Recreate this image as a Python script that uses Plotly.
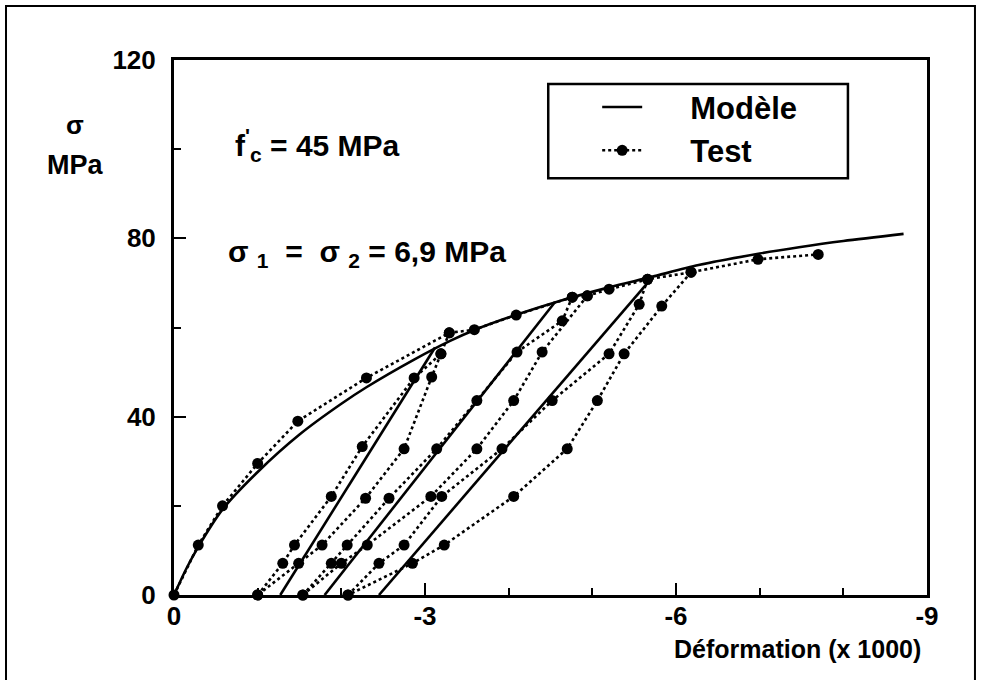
import plotly.graph_objects as go

# ---------------- data (strain x1000, stress MPa) ----------------
# Model: envelope curve
model_env_x = [0, -0.15, -0.29, -0.58, -1.0, -1.5, -2.0, -2.3, -2.87, -3.3, -3.6, -4.1, -4.6, -5.2, -5.7, -6.27, -7.0, -7.47, -8.0, -8.72]
model_env_y = [0, 6.0, 10.8, 19.2, 27.6, 36.0, 42.9, 46.6, 52.8, 57.0, 59.5, 62.9, 65.9, 69.0, 71.3, 74.0, 76.6, 78.0, 79.4, 81.0]
# Model: unloading / reloading lines
model_l1_x = [-1.27, -3.12]
model_l1_y = [0, 55.5]
model_l2_x = [-1.80, -4.55]
model_l2_y = [0, 65.6]
model_l3_x = [-2.45, -5.72]
model_l3_y = [0, 71.3]

# Test: envelope
test_env_x = [0, -0.29, -0.58, -1.0, -1.48, -2.3, -3.29, -3.59, -4.09, -4.76, -4.94, -5.2, -5.66, -6.18, -6.98, -7.7]
test_env_y = [0, 11.2, 20.0, 29.5, 39.0, 48.7, 58.8, 59.5, 62.8, 66.8, 67.1, 68.6, 70.8, 72.4, 75.3, 76.4]
# Test: cycle 1
test_r1_x = [-1.0, -1.30, -1.44, -1.88, -2.25, -2.87, -3.19, -3.29]
test_r1_y = [0, 7.1, 11.2, 22.1, 33.3, 48.7, 54.1, 58.8]
test_u1_x = [-3.19, -3.08, -2.75, -2.29, -1.77, -1.49, -1.0]
test_u1_y = [54.1, 48.9, 32.8, 21.7, 11.2, 7.1, 0]
# Test: cycle 2
test_r2_x = [-1.54, -1.88, -2.07, -2.57, -3.14, -3.62, -4.10, -4.64, -4.76]
test_r2_y = [0, 7.1, 11.2, 21.7, 32.8, 43.6, 54.5, 61.5, 66.8]
test_u2_x = [-4.94, -4.40, -4.06, -3.62, -3.07, -2.31, -2.0, -1.54]
test_u2_y = [67.1, 54.5, 43.6, 32.8, 22.1, 11.2, 7.1, 0]
# Test: cycle 3
test_r3_x = [-2.08, -2.45, -2.75, -3.20, -3.92, -4.52, -5.20, -5.56, -5.66]
test_r3_y = [0, 7.1, 11.2, 22.1, 32.8, 43.6, 54.1, 65.2, 70.8]
test_u3_x = [-6.18, -5.83, -5.38, -5.06, -4.70, -4.06, -3.23, -2.85, -2.08]
test_u3_y = [72.4, 64.8, 54.1, 43.6, 32.8, 22.1, 11.2, 7.1, 0]

x_tickvals = [0, -3, -6, -9]
x_ticktext = ["0", "-3", "-6", "-9"]
y_tickvals = [0, 40, 80, 120]
y_ticktext = ["0", "40", "80", "120"]


def join(parts):
    out = []
    for i, p in enumerate(parts):
        if i:
            out.append(None)
        out.extend(p)
    return out


FONT = "Liberation Sans, Arial, Helvetica, sans-serif"
NB = "\u00a0"

fig = go.Figure()
fig.add_trace(go.Scatter(
    x=join([model_env_x, model_l1_x, model_l2_x, model_l3_x]),
    y=join([model_env_y, model_l1_y, model_l2_y, model_l3_y]),
    mode="lines", name=NB * 5 + "Modèle",
    line=dict(color="black", width=2.6, shape="spline", smoothing=0.8),
    cliponaxis=False,
))
fig.add_trace(go.Scatter(
    x=join([test_env_x, test_r1_x, test_u1_x, test_r2_x, test_u2_x, test_r3_x, test_u3_x]),
    y=join([test_env_y, test_r1_y, test_u1_y, test_r2_y, test_u2_y, test_r3_y, test_u3_y]),
    mode="lines+markers", name=NB * 5 + "Test",
    line=dict(color="black", width=2.6, dash="dot"),
    marker=dict(color="black", size=11, symbol="circle"),
    cliponaxis=False,
))

fig.update_layout(
    width=981, height=680,
    paper_bgcolor="white", plot_bgcolor="white",
    margin=dict(l=174, r=54, t=60, b=85),
    font=dict(family=FONT, color="black", size=22),
    showlegend=True,
    legend=dict(
        x=0.562, y=0.962, xanchor="left", yanchor="top",
        bgcolor="rgba(0,0,0,0)", borderwidth=0,
        font=dict(family=FONT, size=31, color="black", weight="bold"),
        itemwidth=40, tracegroupgap=0,
    ),
    xaxis=dict(
        range=[0, -9], showgrid=False, zeroline=False,
        showline=True, linecolor="black", linewidth=3, mirror=True,
        ticks="inside", ticklen=12, tickwidth=2, tickcolor="black",
        tickvals=x_tickvals, ticktext=x_ticktext,
        tickfont=dict(family=FONT, size=26, color="black", weight="bold"),
        ticklabelstandoff=-4,
        minor=dict(dtick=1, tick0=0, ticks="inside", ticklen=7, tickwidth=2, tickcolor="black", showgrid=False),
    ),
    yaxis=dict(
        range=[0, 120], showgrid=False, zeroline=False,
        showline=True, linecolor="black", linewidth=3, mirror=True,
        ticks="inside", ticklen=12, tickwidth=2, tickcolor="black",
        tickvals=y_tickvals, ticktext=y_ticktext,
        tickfont=dict(family=FONT, size=26, color="black", weight="bold"),
        ticklabelstandoff=10,
        minor=dict(dtick=20, tick0=0, ticks="inside", ticklen=7, tickwidth=2, tickcolor="black", showgrid=False),
    ),
    shapes=[
        # legend frame
        dict(type="rect", xref="paper", yref="paper", x0=0.497, x1=0.895, y0=0.779, y1=0.955,
             line=dict(color="black", width=2.5), fillcolor="rgba(0,0,0,0)"),
        # outer image frame
        dict(type="rect", xref="paper", yref="paper", x0=-0.2231, x1=1.0637, y0=-0.25, y1=1.101,
             line=dict(color="black", width=2), fillcolor="rgba(0,0,0,0)", layer="below"),
    ],
    annotations=[
        dict(xref="paper", yref="paper", x=-0.131, y=0.879, text="σ", showarrow=False,
             font=dict(family=FONT, size=26, weight="bold"), xanchor="center", yanchor="middle"),
        dict(xref="paper", yref="paper", x=-0.131, y=0.804, text="MPa", showarrow=False,
             font=dict(family=FONT, size=27, weight="bold"), xanchor="center", yanchor="middle"),
        dict(xref="paper", yref="paper", x=0.995, y=-0.100, text="Déformation (x 1000)", showarrow=False,
             font=dict(family=FONT, size=25, weight="bold"), xanchor="right", yanchor="middle"),
        dict(xref="x", yref="y", x=-0.70, y=101, text="f<sup>'</sup><sub>c</sub> = 45 MPa", showarrow=False,
             font=dict(family=FONT, size=30, weight="bold"), xanchor="left", yanchor="middle"),
        dict(xref="x", yref="y", x=-0.62, y=76.5, text="σ <sub>1</sub>  =  σ <sub>2</sub> = 6,9 MPa", showarrow=False,
             font=dict(family=FONT, size=30, weight="bold"), xanchor="left", yanchor="middle"),
    ],
)

fig.write_html("out.html")
